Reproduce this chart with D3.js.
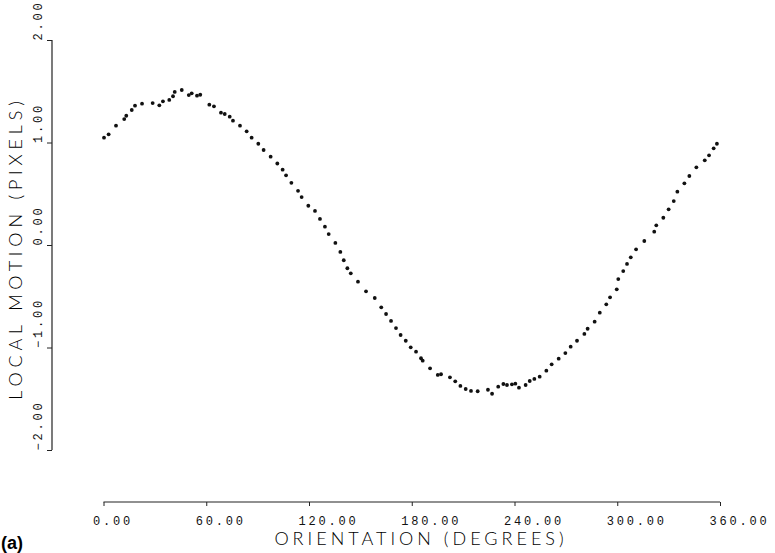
<!DOCTYPE html>
<html>
<head>
<meta charset="utf-8">
<script src="https://cdn.jsdelivr.net/npm/d3@7"></script>
<style>
  body { margin: 0; background: #fff; }
  .tick text { font-family: "Liberation Mono", monospace; font-size: 12px; letter-spacing: 2.8px; fill: #111; }
  .title { font-family: Lato, "DejaVu Sans", sans-serif; font-weight: 300; font-size: 18px; fill: #000; }
</style>
</head>
<body>
<script>
// orientation (degrees) and local motion (pixels)
var orientation = [0.3, 3.0, 7.3, 12.1, 13.3, 16.5, 18.4, 22.5, 28.7, 32.6, 34.7, 38.4, 40.6, 41.6, 45.7,
  49.8, 51.5, 54.6, 56.5, 61.8, 64.5, 68.6, 70.8, 73.7, 75.6, 79.7, 83.6, 86.5, 90.4, 93.5,
  97.6, 101.5, 104.6, 106.6, 109.7, 113.6, 115.7, 119.6, 123.5, 126.4, 129.3, 131.5, 135.4, 138.3, 140.3,
  142.4, 144.4, 148.6, 153.3, 158.4, 162.2, 165.0, 167.9, 170.8, 173.5, 176.5, 179.4, 182.5, 185.4, 186.4,
  190.7, 195.2, 197.1, 202.3, 205.4, 208.4, 211.5, 214.6, 218.5, 224.5, 226.9, 230.5, 233.5, 235.6, 238.5,
  240.5, 242.6, 246.5, 248.9, 251.6, 254.7, 258.6, 261.7, 265.8, 269.7, 272.8, 276.5, 280.8, 282.7, 286.8,
  289.8, 293.6, 295.8, 299.7, 300.6, 303.5, 305.7, 307.9, 311.0, 315.8, 321.6, 322.8, 326.9, 330.0, 333.0,
  335.1, 339.2, 342.1, 346.2, 351.1, 353.6, 356.3, 358.2];
var motion = [1.047, 1.08, 1.164, 1.229, 1.261, 1.317, 1.359, 1.379, 1.385, 1.363, 1.402, 1.415, 1.451, 1.493, 1.512,
  1.463, 1.48, 1.457, 1.466, 1.369, 1.353, 1.291, 1.278, 1.252, 1.213, 1.164, 1.109, 1.047, 0.988, 0.927,
  0.862, 0.795, 0.735, 0.68, 0.607, 0.529, 0.468, 0.383, 0.332, 0.254, 0.179, 0.107, 0.02, -0.068, -0.149,
  -0.227, -0.276, -0.358, -0.452, -0.517, -0.608, -0.673, -0.741, -0.81, -0.878, -0.934, -0.998, -1.041, -1.105, -1.129,
  -1.203, -1.268, -1.261, -1.291, -1.33, -1.375, -1.405, -1.424, -1.427, -1.412, -1.451, -1.382, -1.356, -1.366, -1.359,
  -1.353, -1.392, -1.366, -1.327, -1.307, -1.285, -1.226, -1.164, -1.109, -1.054, -0.992, -0.934, -0.868, -0.817, -0.748,
  -0.66, -0.579, -0.51, -0.432, -0.332, -0.254, -0.185, -0.12, -0.042, 0.039, 0.13, 0.192, 0.266, 0.348, 0.429,
  0.52, 0.602, 0.673, 0.758, 0.826, 0.875, 0.943, 0.988];

var xTicks = [0, 60, 120, 180, 240, 300, 360];
var yTicks = [-2, -1, 0, 1, 2];

var svgWidth = 775;
var svgHeight = 553;

var svg = d3.select("body")
  .append("svg")
  .attr("width", svgWidth)
  .attr("height", svgHeight);

var xScale = d3.scaleLinear().domain([0, 360]).range([103.5, 720]);
var yScale = d3.scaleLinear().domain([-2, 2]).range([450, 40]);

var axisY = 502;
var axisX = 52;

// bottom axis
var xAxis = d3.axisBottom(xScale)
  .tickValues(xTicks)
  .tickSize(4)
  .tickFormat(d3.format(".2f"));

var gx = svg.append("g")
  .attr("transform", `translate(0, ${axisY})`)
  .call(xAxis);
gx.select(".domain").attr("stroke", "#222").attr("stroke-width", 1.2).attr("d", `M${xScale(0)},0H${xScale(360)}`);
gx.selectAll(".tick line").attr("stroke", "#222");
gx.selectAll(".tick text")
  .attr("text-anchor", "start")
  .attr("x", -11)
  .attr("y", 14)
  .attr("dy", "0.71em");

// left axis, labels turned to read upward and starting at the tick
var yAxis = d3.axisLeft(yScale)
  .tickValues(yTicks)
  .tickSize(5)
  .tickFormat(d3.format(".2f"));

var gy = svg.append("g")
  .attr("transform", `translate(${axisX}, 0)`)
  .call(yAxis);
gy.select(".domain").attr("stroke", "#222").attr("stroke-width", 1.2).attr("d", `M0,${yScale(2)}V${yScale(-2)}`);
gy.selectAll(".tick line").attr("stroke", "#222");
gy.selectAll(".tick text")
  .attr("text-anchor", "start")
  .attr("x", 0)
  .attr("y", 0)
  .attr("dy", 0)
  .attr("transform", "translate(-10, 0) rotate(-90)");

// axis titles
svg.append("text")
  .attr("class", "title")
  .attr("x", 421)
  .attr("y", 545)
  .attr("text-anchor", "middle")
  .attr("letter-spacing", 4)
  .text("ORIENTATION (DEGREES)");

svg.append("text")
  .attr("class", "title")
  .attr("text-anchor", "middle")
  .attr("letter-spacing", 4.8)
  .attr("transform", "translate(22, 248) rotate(-90)")
  .text("LOCAL MOTION (PIXELS)");

svg.append("text")
  .attr("x", 1)
  .attr("y", 549)
  .attr("font-family", "Liberation Sans, Arial, sans-serif")
  .attr("font-weight", "bold")
  .attr("font-size", 18)
  .text("(a)");

// data points
var points = orientation.map((d, i) => ({ deg: d, val: motion[i] }));

svg.selectAll(".dot")
  .data(points)
  .enter()
  .append("circle")
  .attr("class", "dot")
  .attr("cx", d => xScale(d.deg))
  .attr("cy", d => yScale(d.val))
  .attr("r", 1.9)
  .attr("fill", "#111");
</script>
</body>
</html>
